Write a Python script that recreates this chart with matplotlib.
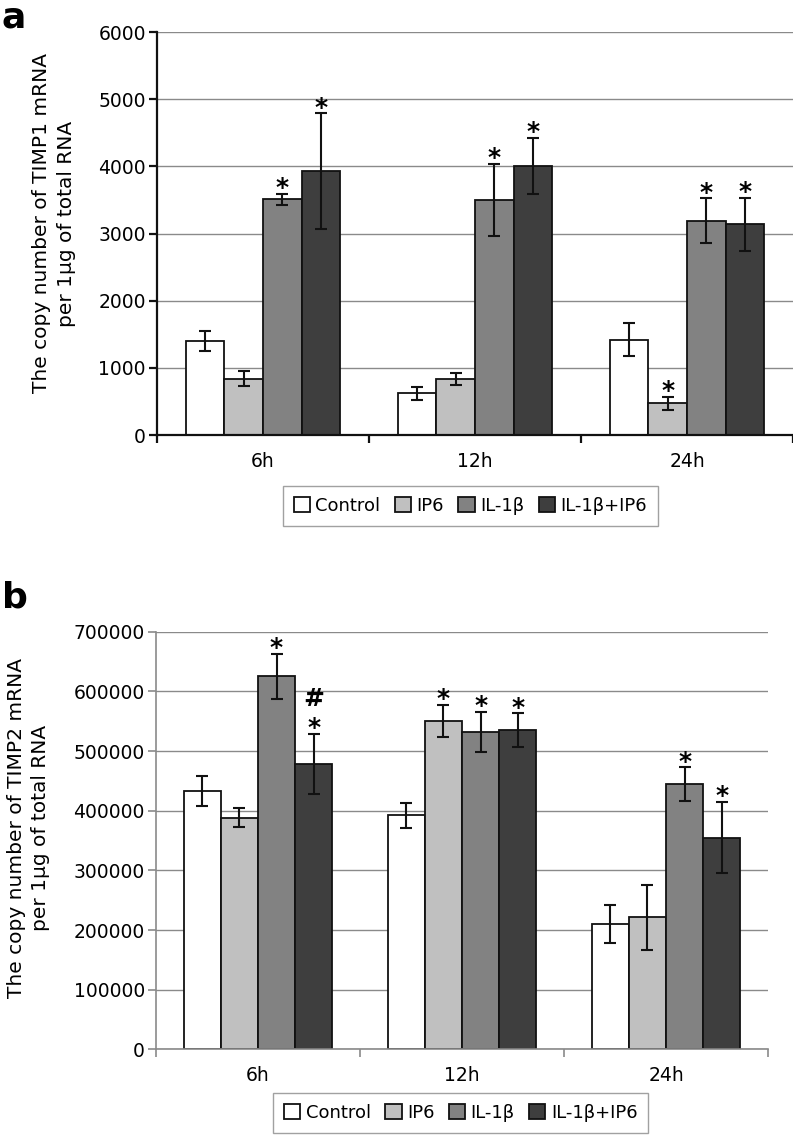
import matplotlib.pyplot as plt
import numpy as np

plt.rcParams['font.family'] = ['DejaVu Sans']

times = ["6h", "12h", "24h"]
groups = ["Control", "IP6", "IL-1β", "IL-1β+IP6"]
colors = ["#ffffff", "#c0c0c0", "#828282", "#3e3e3e"]

# panel a: TIMP1
timp1_control = [1400, 620, 1420]
timp1_ip6 = [840, 830, 470]
timp1_il1b = [3510, 3500, 3190]
timp1_combo = [3930, 4010, 3140]
timp1_control_err = [145, 100, 250]
timp1_ip6_err = [110, 90, 100]
timp1_il1b_err = [80, 535, 335]
timp1_combo_err = [860, 415, 395]
timp1_marks = [["", "", ""], ["", "", "*"], ["*", "*", "*"], ["*", "*", "*"]]

# panel b: TIMP2
timp2_control = [433000, 392000, 210000]
timp2_ip6 = [388000, 551000, 221000]
timp2_il1b = [625000, 532000, 445000]
timp2_combo = [478000, 535000, 355000]
timp2_control_err = [25000, 21000, 32000]
timp2_ip6_err = [16000, 27000, 54000]
timp2_il1b_err = [38000, 33500, 28000]
timp2_combo_err = [50500, 28000, 59500]
timp2_marks = [["", "", ""], ["", "*", ""], ["*", "*", "*"], ["#\n*", "*", "*"]]


def draw_panel(ax, means, errs, marks, ymax, ystep, axis_color, axis_lw, pad):
    """grouped bars with error bars and significance marks"""
    x = np.arange(len(times))
    width = 0.182
    for i, (m, e, mk) in enumerate(zip(means, errs, marks)):
        pos = x + (i - 1.5) * width
        ax.bar(pos, m, width, color=colors[i], edgecolor="#111111",
               linewidth=1.3, label=groups[i], zorder=2)
        ax.errorbar(pos, m, yerr=e, fmt="none", ecolor="#111111",
                    elinewidth=1.5, capsize=4, capthick=1.5, zorder=3)
        for p, top, s in zip(pos, np.array(m) + np.array(e), mk):
            for k, part in enumerate(reversed(s.split("\n"))):
                if part:
                    ax.annotate(part, xy=(p, top), xytext=(0, -1 + 21 * k),
                                textcoords="offset points", ha="center",
                                va="baseline", fontsize=18, fontweight="bold")

    ax.set_xlim(-0.5, 2.5)
    ax.set_ylim(0, ymax)
    ax.set_yticks(np.arange(0, ymax + 1, ystep))
    ax.yaxis.grid(True, color="#8a8a8a", linewidth=1)
    ax.set_axisbelow(True)
    ax.set_xticks([-0.5, 0.5, 1.5, 2.5])
    ax.set_xticklabels([])
    ax.set_xticks(x, minor=True)
    ax.set_xticklabels(times, minor=True)
    ax.tick_params(axis="x", which="minor", length=0, pad=pad, labelsize=13.5)
    ax.tick_params(axis="x", which="major", length=6, width=axis_lw,
                   color=axis_color)
    ax.tick_params(axis="y", length=6, width=axis_lw, color=axis_color,
                   labelsize=13.5, pad=2)
    for side in ["top", "right"]:
        ax.spines[side].set_visible(False)
    for side in ["left", "bottom"]:
        ax.spines[side].set_color(axis_color)
        ax.spines[side].set_linewidth(axis_lw)


def main():
    fig = plt.figure(figsize=(7.93, 11.35), dpi=100)

    ax1 = fig.add_axes([0.198, 0.6167, 0.802, 0.3551])
    draw_panel(ax1,
               [timp1_control, timp1_ip6, timp1_il1b, timp1_combo],
               [timp1_control_err, timp1_ip6_err, timp1_il1b_err, timp1_combo_err],
               timp1_marks, 6000, 1000, "#111111", 1.6, 12.5)
    ax1.set_ylabel("The copy number of TIMP1 mRNA\nper 1μg of total RNA",
                   fontsize=14.5, linespacing=1.35)
    ax1.yaxis.set_label_coords(-0.128, 0.525)

    ax2 = fig.add_axes([0.1967, 0.0755, 0.7718, 0.3679])
    draw_panel(ax2,
               [timp2_control, timp2_ip6, timp2_il1b, timp2_combo],
               [timp2_control_err, timp2_ip6_err, timp2_il1b_err, timp2_combo_err],
               timp2_marks, 700000, 100000, "#8a8a8a", 1.2, 12)
    ax2.set_ylabel("The copy number of TIMP2 mRNA\nper 1μg of total RNA",
                   fontsize=14.5, linespacing=1.35)
    ax2.yaxis.set_label_coords(-0.173, 0.529)

    for ax, cx, cy in [(ax1, 0.593, 0.554), (ax2, 0.581, 0.0194)]:
        handles, labels = ax.get_legend_handles_labels()
        fig.legend(handles, labels, loc="center", bbox_to_anchor=(cx, cy),
                   ncol=4, fontsize=13, frameon=True, fancybox=False,
                   edgecolor="#8a8a8a", handlelength=0.9, handleheight=0.9,
                   handletextpad=0.3, columnspacing=0.8, borderpad=0.6)

    fig.text(0.002, 1 - 27 / 1135, "a", fontsize=26, fontweight="bold", va="baseline")
    fig.text(0.002, 1 - 608 / 1135, "b", fontsize=26, fontweight="bold", va="baseline")

    fig.savefig("out.png", dpi=100)


if __name__ == "__main__":
    main()
